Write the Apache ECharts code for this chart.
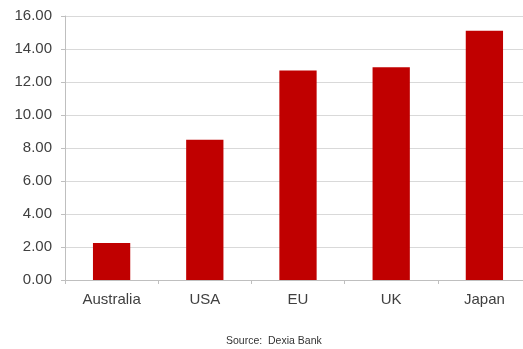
<!DOCTYPE html>
<html>
<head>
<meta charset="utf-8">
<script src="https://cdn.jsdelivr.net/npm/echarts@6/dist/echarts.min.js"></script>
<style>
  html, body { margin: 0; padding: 0; background: #ffffff; }
  #chart { width: 523px; height: 349px; }
</style>
</head>
<body>
<div id="chart"></div>
<script>
// Regions along the x axis
const regions = ['Australia', 'USA', 'EU', 'UK', 'Japan'];
// Bar heights per region
const values = [2.25, 8.5, 12.7, 12.9, 15.1];
// Value axis range
const yMin = 0;
const yMax = 16;
const yStep = 2;
const sourceNote = 'Source:  Dexia Bank';

const chart = echarts.init(document.getElementById('chart'), null, { renderer: 'canvas' });

const textColor = '#404040';
const fontFamily = 'Liberation Sans, Arial, sans-serif';

chart.setOption({
  animation: false,
  backgroundColor: '#ffffff',
  grid: {
    left: 65,
    top: 16,
    bottom: 69,
    width: 466,
    containLabel: false,
    outerBoundsMode: 'none'
  },
  xAxis: {
    type: 'category',
    data: regions,
    boundaryGap: true,
    axisLine: { show: true, lineStyle: { color: '#bfbfbf', width: 1 } },
    axisTick: { show: true, length: 4, alignWithLabel: false, lineStyle: { color: '#bfbfbf' } },
    axisLabel: { color: textColor, fontSize: 15, fontFamily: fontFamily, margin: 12 },
    splitLine: { show: false }
  },
  yAxis: {
    type: 'value',
    min: yMin,
    max: yMax,
    interval: yStep,
    axisLine: { show: true, lineStyle: { color: '#bfbfbf', width: 1 } },
    axisTick: { show: true, length: 4, lineStyle: { color: '#bfbfbf' } },
    axisLabel: {
      color: textColor,
      fontSize: 15,
      fontFamily: fontFamily,
      margin: 13,
      formatter: v => v.toFixed(2)
    },
    splitLine: { show: true, lineStyle: { color: '#d9d9d9', width: 1 } }
  },
  series: [{
    type: 'bar',
    data: values,
    barCategoryGap: '60%',
    itemStyle: { color: '#c00000' }
  }],
  graphic: [{
    type: 'text',
    left: 226,
    top: 336,
    style: {
      text: sourceNote,
      fill: '#333333',
      font: '10.5px ' + fontFamily
    }
  }]
});
</script>
</body>
</html>
